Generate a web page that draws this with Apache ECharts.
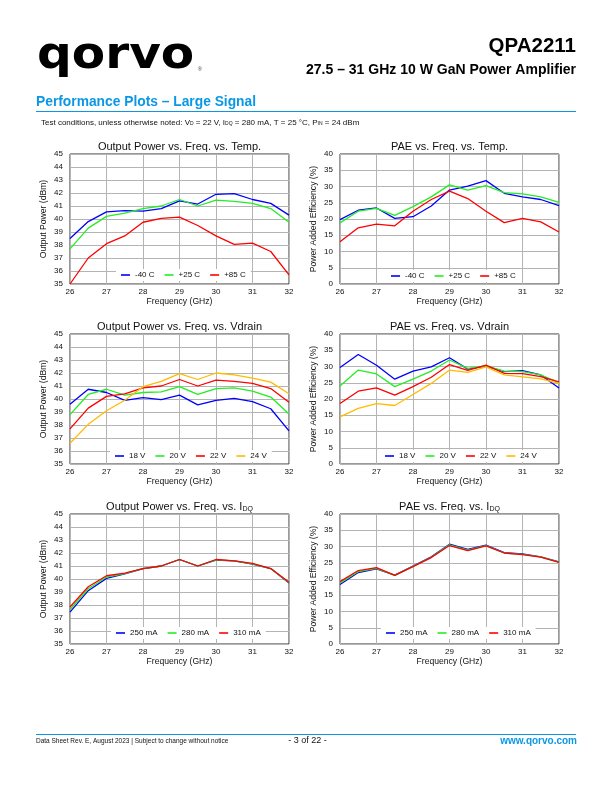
<!DOCTYPE html>
<html><head><meta charset="utf-8">
<script src="https://cdn.jsdelivr.net/npm/echarts@6/dist/echarts.min.js"></script>
<style>html,body{margin:0;padding:0;background:#fff}#c{width:612px;height:792px}</style>
</head><body><div id="c"></div>
<script>
// ---------- data ----------
const freq = [26, 26.5, 27, 27.5, 28, 28.5, 29, 29.5, 30, 30.5, 31, 31.5, 32];

const poutTempM40 = [38.5, 39.8, 40.55, 40.65, 40.6, 40.8, 41.4, 41.15, 41.9, 41.95, 41.5, 41.2, 40.3];
const poutTempP25 = [37.7, 39.3, 40.2, 40.45, 40.8, 41.0, 41.5, 41.0, 41.45, 41.35, 41.2, 40.8, 39.75];
const poutTempP85 = [35.0, 37.0, 38.1, 38.7, 39.75, 40.05, 40.15, 39.5, 38.7, 38.05, 38.15, 37.5, 35.7];

const paeTempM40 = [19.8, 22.7, 23.4, 20.2, 20.7, 24.0, 28.9, 30.1, 31.8, 27.9, 26.8, 26.0, 24.1];
const paeTempP25 = [18.8, 22.4, 23.3, 21.1, 23.8, 26.8, 30.5, 28.9, 30.3, 28.1, 27.7, 26.8, 25.1];
const paeTempP85 = [13.0, 17.3, 18.4, 17.9, 22.4, 26.0, 28.6, 26.3, 22.4, 18.9, 20.2, 19.1, 16.0];

const poutVd18 = [39.6, 40.75, 40.5, 39.9, 40.1, 39.95, 40.3, 39.55, 39.9, 40.05, 39.8, 39.25, 37.55];
const poutVd20 = [38.8, 40.35, 40.75, 40.3, 40.5, 40.55, 40.95, 40.35, 40.8, 40.85, 40.6, 40.15, 38.85];
const poutVd22 = [37.7, 39.3, 40.2, 40.4, 40.85, 41.0, 41.5, 41.0, 41.45, 41.35, 41.2, 40.8, 39.75];
const poutVd24 = [36.6, 38.05, 39.1, 39.9, 40.95, 41.35, 41.95, 41.5, 42.0, 41.85, 41.6, 41.3, 40.4];

const paeVd18 = [29.7, 33.7, 30.4, 26.1, 28.6, 29.9, 32.7, 29.2, 30.1, 28.4, 28.7, 27.4, 23.4];
const paeVd20 = [24.0, 28.9, 27.7, 23.8, 26.1, 28.6, 32.0, 29.4, 30.2, 28.6, 28.4, 27.4, 25.0];
const paeVd22 = [18.6, 22.4, 23.4, 21.2, 23.8, 26.7, 30.6, 28.8, 30.4, 27.9, 27.8, 26.9, 25.3];
const paeVd24 = [14.5, 17.1, 18.6, 18.0, 21.4, 24.8, 28.9, 28.2, 29.9, 27.4, 26.8, 26.2, 24.8];

const poutIdq250 = [37.45, 39.1, 40.05, 40.4, 40.8, 41.0, 41.5, 41.0, 41.45, 41.4, 41.15, 40.8, 39.7];
const poutIdq280 = [37.65, 39.25, 40.15, 40.42, 40.8, 41.0, 41.5, 41.0, 41.47, 41.4, 41.17, 40.8, 39.72];
const poutIdq310 = [37.85, 39.4, 40.25, 40.45, 40.8, 41.0, 41.5, 41.0, 41.5, 41.4, 41.2, 40.8, 39.75];

const paeIdq250 = [18.3, 22.0, 23.1, 21.2, 24.0, 26.8, 30.7, 29.1, 30.4, 28.1, 27.7, 26.8, 25.3];
const paeIdq280 = [18.8, 22.3, 23.3, 21.1, 23.9, 26.7, 30.5, 28.9, 30.3, 28.0, 27.6, 26.8, 25.2];
const paeIdq310 = [19.2, 22.6, 23.5, 21.1, 23.8, 26.6, 30.3, 28.7, 30.2, 28.0, 27.5, 26.7, 25.1];

const xTicks = [26, 27, 28, 29, 30, 31, 32];
const poutTicks = [35, 45, 1];
const paeTicks = [0, 40, 5];

// ---------- layout ----------
const FONT = '"Liberation Sans", Arial, sans-serif';
const BLUE = '#0a98e6';
const cols = [70, 340];
const rows = [154, 334, 514];
const PW = 219, PH = 130;

const C_BLUE = '#0000ff', C_GREEN = '#22ee22', C_RED = '#ff0000', C_ORANGE = '#ffbb00';

const panels = [
  {r:0,c:0,kind:'pout',title:'Output Power vs. Freq. vs. Temp.',
   series:[['-40 C',poutTempM40,C_BLUE],['+25 C',poutTempP25,C_GREEN],['+85 C',poutTempP85,C_RED]], legLeft:116, legTop:269},
  {r:0,c:1,kind:'pae',title:'PAE vs. Freq. vs. Temp.',
   series:[['-40 C',paeTempM40,C_BLUE],['+25 C',paeTempP25,C_GREEN],['+85 C',paeTempP85,C_RED]], legLeft:386, legTop:270},
  {r:1,c:0,kind:'pout',title:'Output Power vs. Freq. vs. Vdrain',
   series:[['18 V',poutVd18,C_BLUE],['20 V',poutVd20,C_GREEN],['22 V',poutVd22,C_RED],['24 V',poutVd24,C_ORANGE]], legLeft:110, legTop:450},
  {r:1,c:1,kind:'pae',title:'PAE vs. Freq. vs. Vdrain',
   series:[['18 V',paeVd18,C_BLUE],['20 V',paeVd20,C_GREEN],['22 V',paeVd22,C_RED],['24 V',paeVd24,C_ORANGE]], legLeft:380, legTop:450},
  {r:2,c:0,kind:'pout',title:'Output Power vs. Freq. vs. I{s|DQ}',
   series:[['250 mA',poutIdq250,C_BLUE],['280 mA',poutIdq280,C_GREEN],['310 mA',poutIdq310,C_RED]], legLeft:111, legTop:627},
  {r:2,c:1,kind:'pae',title:'PAE vs. Freq. vs. I{s|DQ}',
   series:[['250 mA',paeIdq250,C_BLUE],['280 mA',paeIdq280,C_GREEN],['310 mA',paeIdq310,C_RED]], legLeft:381, legTop:627}
];

const grid = [], xAxis = [], yAxis = [], series = [], legend = [], graphic = [];

panels.forEach((p, i) => {
  const left = cols[p.c], top = rows[p.r];
  grid.push({left: left, top: top, width: PW, height: PH, show: true, borderColor: '#333', borderWidth: 1, backgroundColor: '#fff'});
  xAxis.push({
    type: 'value', gridIndex: i, min: xTicks[0], max: xTicks[xTicks.length-1], interval: 1,
    name: 'Frequency (GHz)', nameLocation: 'middle', nameGap: 12,
    nameTextStyle: {fontFamily: FONT, fontSize: 8.6, color: '#111'},
    axisLine: {show: false}, axisTick: {show: false},
    axisLabel: {fontFamily: FONT, fontSize: 8, color: '#111', margin: 4},
    splitLine: {show: true, lineStyle: {color: '#b4b4b4', width: 1}}
  });
  const t = p.kind === 'pout' ? poutTicks : paeTicks;
  yAxis.push({
    type: 'value', gridIndex: i, min: t[0], max: t[1], interval: t[2],
    name: p.kind === 'pout' ? 'Output Power (dBm)' : 'Power Added Efficiency (%)',
    nameLocation: 'middle', nameGap: 22, nameRotate: 90,
    nameTextStyle: {fontFamily: FONT, fontSize: 8.6, color: '#111'},
    axisLine: {show: false}, axisTick: {show: false},
    axisLabel: {fontFamily: FONT, fontSize: 8, color: '#111', margin: 7},
    splitLine: {show: true, lineStyle: {color: '#b4b4b4', width: 1}}
  });
  p.series.forEach(s => {
    series.push({
      type: 'line', name: s[0], xAxisIndex: i, yAxisIndex: i,
      data: freq.map((f, k) => [f, s[1][k]]),
      showSymbol: false, symbol: 'none', animation: false,
      lineStyle: {color: s[2], width: 1.3}, itemStyle: {color: s[2]}
    });
  });
  legend.push({
    data: p.series.map(s => s[0]), left: p.legLeft, top: p.legTop,
    icon: 'rect', itemWidth: 9, itemHeight: 1.6, itemGap: 10,
    backgroundColor: '#fff', padding: [2, 5],
    textStyle: {fontFamily: FONT, fontSize: 8, color: '#111'},
    selectedMode: false
  });
  graphic.push({
    type: 'text', x: left + PW / 2, y: top - 7,
    style: {text: p.title, font: '11px ' + FONT, fill: '#111', align: 'center', verticalAlign: 'middle',
      rich: {s: {fontSize: 7, fontFamily: FONT, fill: '#111', padding: [5, 0, 0, 0]}}}
  });
});

// header / footer
graphic.push(
  {type: 'text', x: 37, y: 56, scaleX: 1.08, style: {text: 'qorvo', font: 'bold 45px "DejaVu Sans", sans-serif', fill: '#000', align: 'left', verticalAlign: 'middle'}},
  {type: 'text', x: 198, y: 70, style: {text: '®', font: '5px ' + FONT, fill: '#333', align: 'left', verticalAlign: 'middle'}},
  {type: 'text', x: 576, y: 46, style: {text: 'QPA2211', font: 'bold 20.5px ' + FONT, fill: '#000', align: 'right', verticalAlign: 'middle'}},
  {type: 'text', x: 576, y: 70, style: {text: '27.5 – 31 GHz 10 W GaN Power Amplifier', font: 'bold 14px ' + FONT, fill: '#000', align: 'right', verticalAlign: 'middle'}},
  {type: 'text', x: 36, y: 102, style: {text: 'Performance Plots – Large Signal', font: 'bold 13.8px ' + FONT, fill: BLUE, align: 'left', verticalAlign: 'middle'}},
  {type: 'line', shape: {x1: 36, y1: 111.5, x2: 576, y2: 111.5}, style: {stroke: BLUE, lineWidth: 1.2}},
  {type: 'text', x: 41, y: 122.5, style: {
    text: 'Test conditions, unless otherwise noted: V{s|D} = 22 V, I{s|DQ} = 280 mA, T = 25 °C, P{s|IN} = 24 dBm',
    font: '8px ' + FONT, fill: '#111', align: 'left', verticalAlign: 'middle',
    rich: {s: {fontSize: 5, fontFamily: FONT, fill: '#111', padding: [3, 0, 0, 0]}}}},
  {type: 'line', shape: {x1: 36, y1: 734.5, x2: 576, y2: 734.5}, style: {stroke: BLUE, lineWidth: 1.2}},
  {type: 'text', x: 36, y: 741, style: {text: 'Data Sheet Rev. E, August 2023 | Subject to change without notice', font: '6.5px ' + FONT, fill: '#111', align: 'left', verticalAlign: 'middle'}},
  {type: 'text', x: 307.5, y: 741, style: {text: '- 3 of 22 -', font: '9px ' + FONT, fill: '#111', align: 'center', verticalAlign: 'middle'}},
  {type: 'text', x: 577, y: 741, style: {text: 'www.qorvo.com', font: 'bold 10px ' + FONT, fill: BLUE, align: 'right', verticalAlign: 'middle'}}
);

const chart = echarts.init(document.getElementById('c'), null, {renderer: 'canvas'});
chart.setOption({
  animation: false, backgroundColor: '#fff',
  grid, xAxis, yAxis, series, legend, graphic
});
</script></body></html>
